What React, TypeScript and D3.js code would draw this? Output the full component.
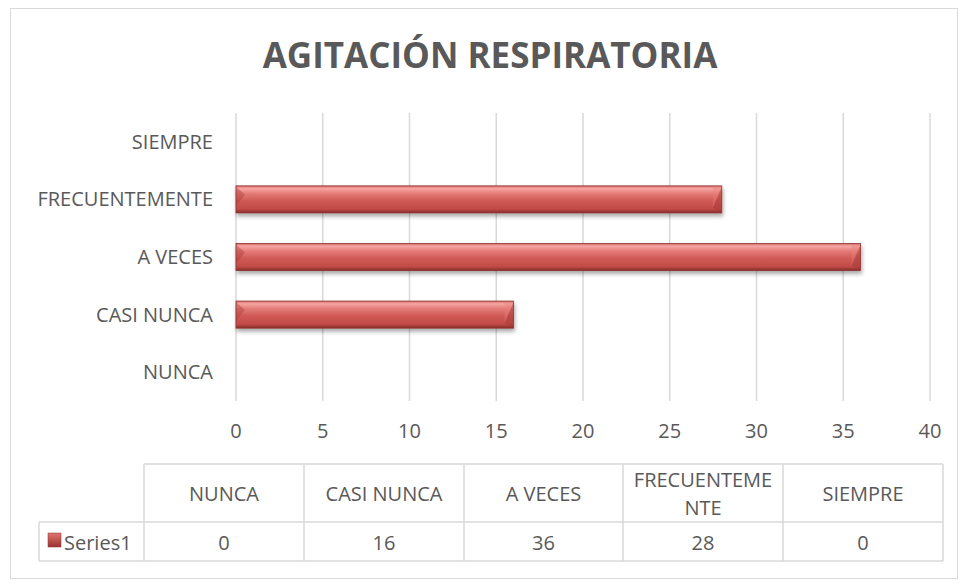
import React from "react";
import * as d3 from "d3";

const categories = ["NUNCA", "CASI NUNCA", "A VECES", "FRECUENTEMENTE", "SIEMPRE"];
const tableHeaders = ["NUNCA", "CASI NUNCA", "A VECES", "FRECUENTEME\nNTE", "SIEMPRE"];
const values = [0, 16, 36, 28, 0];
const xTicks = [0, 5, 10, 15, 20, 25, 30, 35, 40];
const seriesName = "Series1";
const title = "AGITACIÓN RESPIRATORIA";

const W = 960, H = 585;
const FONT = "'Open Sans', 'Liberation Sans', sans-serif";
const TXT = "#595959";

export default function App() {
  const x = d3.scaleLinear().domain([0, 40]).range([236, 930]);
  const y = d3.scaleBand<string>().domain([...categories].reverse()).range([113, 401]).paddingInner(0.53).paddingOuter(0.265);
  const tableX = [144, 304, 464, 623, 783, 943];
  const bh = y.bandwidth();
  return (
    <svg width={W} height={H} style={{ position: "absolute", left: 0, top: 0 }} fontFamily={FONT}>
      <defs>
        <linearGradient id="barG" x1="0" y1="0" x2="0" y2="1">
          <stop offset="0" stopColor="#d86a66" />
          <stop offset="0.1" stopColor="#f5a6a3" />
          <stop offset="0.28" stopColor="#e47c78" />
          <stop offset="0.55" stopColor="#d05a56" />
          <stop offset="0.85" stopColor="#c24b47" />
          <stop offset="1" stopColor="#862e2b" />
        </linearGradient>
        <linearGradient id="legG" x1="0" y1="0" x2="0" y2="1">
          <stop offset="0" stopColor="#e07470" />
          <stop offset="1" stopColor="#9a3330" />
        </linearGradient>
        <filter id="sh" x="-5%" y="-30%" width="110%" height="180%">
          <feGaussianBlur in="SourceAlpha" stdDeviation="2" />
          <feOffset dx="1" dy="3" result="o" />
          <feComponentTransfer><feFuncA type="linear" slope="0.35" /></feComponentTransfer>
          <feMerge><feMergeNode /><feMergeNode in="SourceGraphic" /></feMerge>
        </filter>
      </defs>
      <rect x={0} y={0} width={W} height={H} fill="#fff" />
      <rect x={10.5} y={8.5} width={947} height={570} fill="none" stroke="#d9d9d9" />
      <text x={490} y={68} textAnchor="middle" fontSize={35} fontWeight="bold" fill={TXT}>{title}</text>
      {xTicks.map(t => (
        <g key={t}>
          <line x1={x(t)} x2={x(t)} y1={113} y2={401} stroke="#d9d9d9" strokeWidth={1.5} />
          <text x={x(t)} y={438} textAnchor="middle" fontSize={20} fill={TXT}>{t}</text>
        </g>
      ))}
      {categories.map((c, i) => {
        const yy = y(c)!;
        const x0 = x(0), x1 = x(values[i]);
        const b = 9;
        return (
          <g key={c}>
            <text x={213} y={yy + bh / 2 + 7} textAnchor="end" fontSize={20} fill={TXT}>{c}</text>
            {values[i] > 0 && (
              <g filter="url(#sh)">
                <rect x={x0} y={yy} width={x1 - x0} height={bh} fill="url(#barG)" stroke="#8c3330" strokeWidth={0.8} />
                <polygon points={`${x1},${yy + 1} ${x1},${yy + bh - 1} ${x1 - b},${yy + bh - 5}`} fill="#a63a37" opacity={0.5} />
                <polygon points={`${x1},${yy + 1} ${x1 - b},${yy + 1} ${x1 - b},${yy + bh - 5}`} fill="#e8807c" opacity={0.35} />
                <polygon points={`${x0},${yy + 1} ${x0 + b},${yy + 9} ${x0},${yy + 20}`} fill="#a83a37" opacity={0.4} />
              </g>
            )}
          </g>
        );
      })}
      <g stroke="#d9d9d9" strokeWidth={1.5} fill="none">
        <line x1={144} x2={943} y1={464} y2={464} />
        <line x1={39} x2={943} y1={522} y2={522} />
        <line x1={39} x2={943} y1={561} y2={561} />
        <line x1={39} x2={39} y1={522} y2={561} />
        {tableX.map(tx => <line key={tx} x1={tx} x2={tx} y1={464} y2={561} />)}
      </g>
      {tableHeaders.map((h, i) => {
        const cx = (tableX[i] + tableX[i + 1]) / 2;
        const lines = h.split("\n");
        return (
          <g key={h}>
            {lines.map((ln, j) => (
              <text key={j} x={cx} y={lines.length === 1 ? 501 : 487 + j * 28} textAnchor="middle" fontSize={20} fill={TXT}>{ln}</text>
            ))}
            <text x={cx} y={550} textAnchor="middle" fontSize={20} fill={TXT}>{values[i]}</text>
          </g>
        );
      })}
      <rect x={48} y={533} width={13} height={14} fill="url(#legG)" stroke="#8c3330" strokeWidth={0.5} />
      <text x={64} y={550} fontSize={20} fill={TXT}>{seriesName}</text>
    </svg>
  );
}
